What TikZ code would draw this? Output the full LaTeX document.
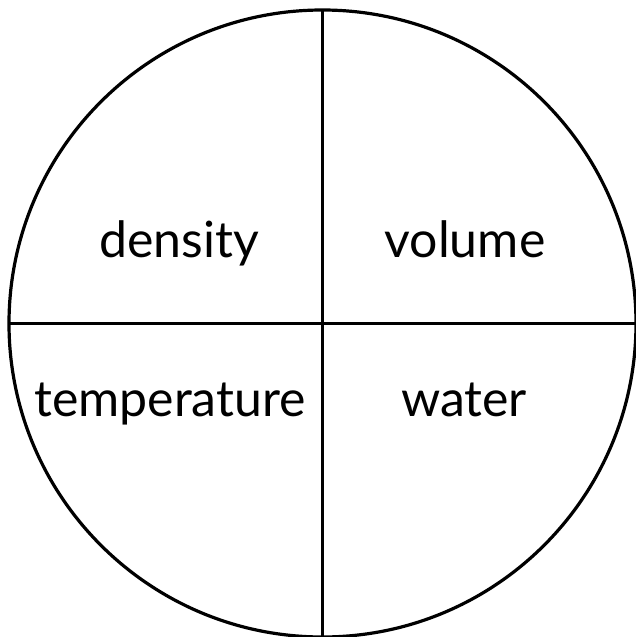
\documentclass[tikz,border=0pt]{standalone}
\usepackage{fontspec}
\setmainfont{Lato}
\tikzset{lbl/.style={font=\fontsize{50}{54}\selectfont, inner sep=0pt, anchor=base}, ln/.style={line width=3.2pt, black}}
\begin{document}
\begin{tikzpicture}[x=1pt,y=1pt]
\useasboundingbox (0,0) rectangle (635,-637);
\coordinate (c) at (322.5,-323.5);
\draw[ln] (c) circle (313.5);
\coordinate (l) at (9,-323.5);
\coordinate (r) at (636,-323.5);
\coordinate (t) at (322.5,-10);
\coordinate (b) at (322.5,-637);
\draw[ln] (l) -- (r);
\draw[ln] (t) -- (b);
\node[lbl] (d) at (179,-257) {density};
\node[lbl] (v) at (465,-257) {volume};
\node[lbl] (tp) at (170,-416) {temperature};
\node[lbl] (w) at (464,-416) {water};
\end{tikzpicture}
\end{document}
